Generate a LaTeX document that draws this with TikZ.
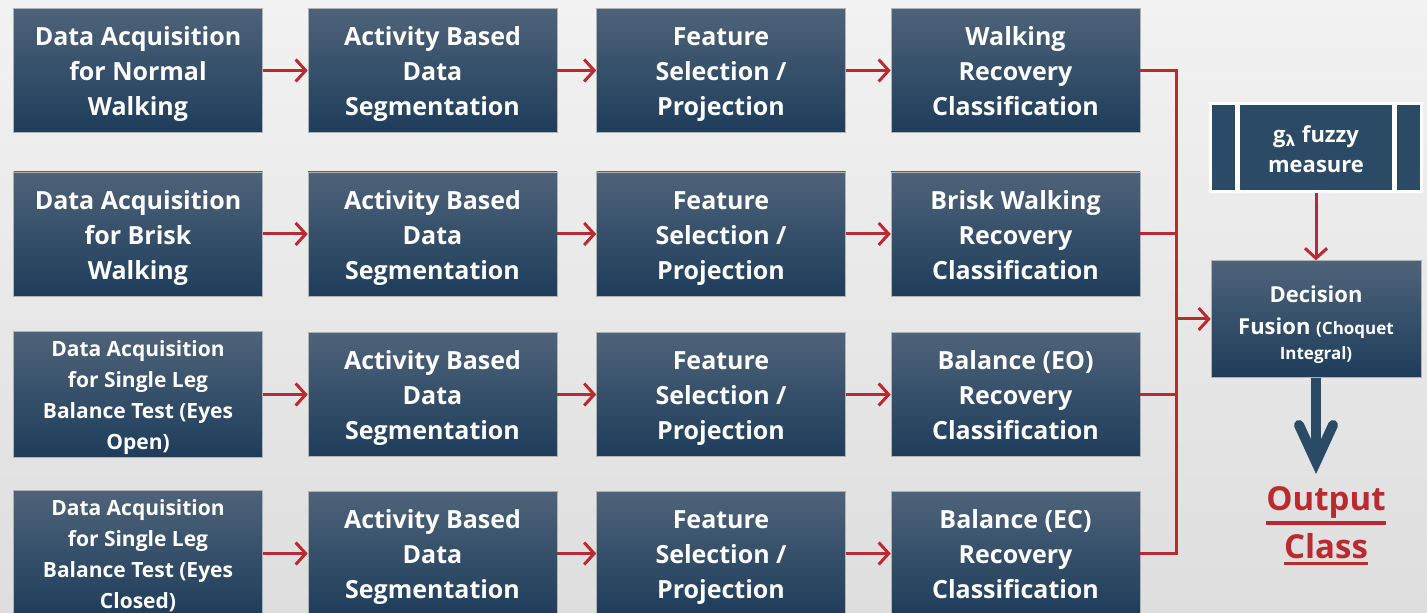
\documentclass[tikz,border=0pt]{standalone}
\usepackage{fontspec}
\setmainfont{Open Sans}
\newfontfamily\grk{DejaVu Sans}
\usetikzlibrary{arrows.meta,positioning}
\definecolor{boxtop}{HTML}{4E6379}
\definecolor{boxbot}{HTML}{1E3D5B}
\definecolor{boxdark}{HTML}{2A4A66}
\definecolor{redline}{HTML}{B92B30}
\definecolor{bgtop}{HTML}{F2F2F2}
\definecolor{bgbot}{HTML}{DEDEDE}
\newcommand\myul[1]{\leavevmode\vtop{\hbox{#1}\kern1.2pt\hrule height 1.8pt}}
\tikzset{
  struts/.style 2 args={execute at begin node={\rule{0pt}{#1}},
    execute at end node={\rule[-#2]{0pt}{#2}}},
  blk/.style={rectangle, minimum width=124.5pt, minimum height=62pt, inner sep=0pt,
    top color=boxtop, bottom color=boxbot, draw=gray!60, line width=0.3pt,
    text=white, align=center, font=\bfseries\fontsize{12.5}{17.5}\selectfont,
    struts={49.4pt}{4pt}},
  smalltxt/.style={font=\bfseries\fontsize{10.5}{15.5}\selectfont, struts={59pt}{4pt}},
  rarr/.style={draw=redline, line width=1.5pt, -{Straight Barb[length=5pt,width=11pt,line width=1.5pt]}},
  rline/.style={draw=redline, line width=1.5pt},
}
\begin{document}
\begin{tikzpicture}[x=0.5pt,y=-0.5pt]
\shade[top color=bgtop, bottom color=bgbot] (0,0) rectangle (1427,613);
\useasboundingbox (0,0) rectangle (1427,613);
% column 1
\node[blk] (a1) at (138,70.5) {Data Acquisition\\for Normal\\Walking};
\node[blk] (a2) at (138,234) {Data Acquisition\\for Brisk\\Walking};
\node[blk,smalltxt] (a3) at (138,394.5) {Data Acquisition\\for Single Leg\\Balance Test (Eyes\\Open)};
\node[blk,smalltxt] (a4) at (138,553.5) {Data Acquisition\\for Single Leg\\Balance Test (Eyes\\Closed)};
% columns 2, 3
\foreach \r/\yc in {1/70.5,2/234,3/394.5,4/553.5}{
  \node[blk] (b\r) at (432.5,\yc) {Activity Based\\Data\\Segmentation};
  \node[blk] (c\r) at (721,\yc) {Feature\\Selection /\\Projection};
}
\node[blk] (d1) at (1015.5,70.5) {Walking\\Recovery\\Classification};
\node[blk] (d2) at (1015.5,234) {Brisk Walking\\Recovery\\Classification};
\node[blk] (d3) at (1015.5,394.5) {Balance (EO)\\Recovery\\Classification};
\node[blk] (d4) at (1015.5,553.5) {Balance (EC)\\Recovery\\Classification};
\foreach \r in {1,2,3,4}{
  \draw[rarr] (a\r) -- (b\r);
  \draw[rarr] (b\r) -- (c\r);
  \draw[rarr] (c\r) -- (d\r);
}
% bus
\coordinate (bus1) at (1176,70.5);
\coordinate (bus4) at (1176,553.5);
\coordinate (busm) at (1176,319);
\foreach \r/\yc in {1/70.5,2/234,3/394.5,4/553.5}{
  \coordinate (bb\r) at (1176,\yc);
  \draw[rline] (d\r.east) -- (bb\r);
}
\draw[rline, line cap=rect] (bus1) -- (bus4);
% decision fusion
\node[blk, minimum width=105pt, minimum height=56pt, font=\bfseries\fontsize{11}{16}\selectfont,
  struts={20pt}{9pt}] (df) at (1316,319)
  {Decision\\Fusion {\fontsize{8.5}{12}\selectfont (Choquet}\\[-3.5pt]{\fontsize{8.5}{12}\selectfont Integral)}};
\draw[rarr] (busm) -- (df.west);
% g lambda fuzzy measure
\fill[white] (1209,102) rectangle (1423,193);
\fill[boxdark] (1212,105) rectangle (1235,190);
\fill[boxdark] (1397,105) rectangle (1420,190);
\node[rectangle, fill=boxdark, minimum width=76pt, minimum height=42.5pt, inner sep=0pt,
  text=white, align=center, font=\bfseries\fontsize{11}{15}\selectfont,
  struts={28.3pt}{3pt}] (gm) at (1316,147.5)
  {g\textsubscript{\grk\bfseries λ} fuzzy\\measure};
\coordinate (gmb) at (1316,193);
\draw[rarr] (gmb) -- (df.north);
% output
\coordinate (tip) at (1316,462);
\coordinate (shaftend) at (1316,452);
\coordinate (hl) at (1299,425);
\coordinate (hr) at (1333,425);
\draw[draw=boxdark, line width=5pt] (df.south) -- (shaftend);
\draw[draw=boxdark, line width=5pt, line cap=round, line join=miter] (hl) -- (tip) -- (hr);
\node[text=redline, align=center, font=\bfseries\fontsize{16.5}{24}\selectfont] (out) at (1326,526)
  {\myul{Output}\\\myul{Class}};
\end{tikzpicture}
\end{document}
